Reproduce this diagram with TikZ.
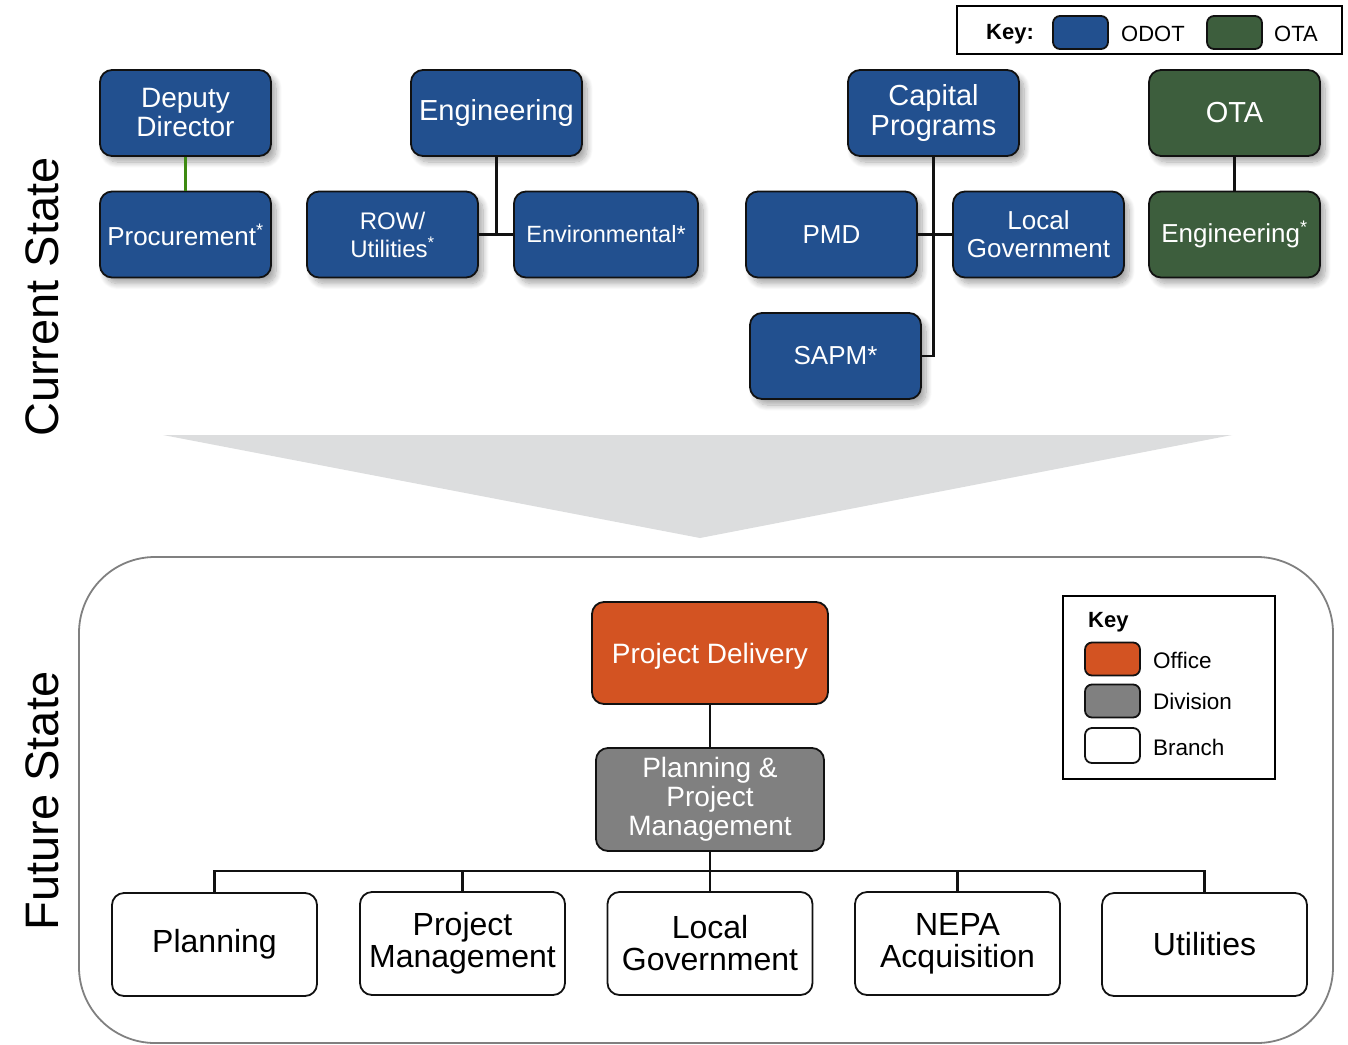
\documentclass[tikz,border=0pt]{standalone}
\usepackage{fontspec}
\setmainfont{Liberation Sans}
\usetikzlibrary{shadows.blur}
\definecolor{odot}{HTML}{22508F}
\definecolor{ota}{HTML}{3D5E3D}
\definecolor{office}{HTML}{D35322}
\definecolor{division}{HTML}{808080}
\definecolor{arrowgray}{HTML}{DCDDDE}
\definecolor{linkgreen}{HTML}{3E8A12}
\definecolor{inkline}{HTML}{111111}
\newcommand\myfs[2]{\fontsize{#1pt}{#2pt}\selectfont}
\begin{document}
\begin{tikzpicture}[x=1pt,y=-1pt,
  box/.style={draw=inkline, line width=1.8pt, rounded corners=12pt, inner sep=0pt, align=center,
    minimum width=171pt, minimum height=86pt},
  shad/.style={blur shadow={shadow xshift=5pt, shadow yshift=-6pt, shadow blur steps=10, shadow opacity=35, shadow blur radius=6pt}},
  odotbox/.style={box, shad, fill=odot, text=white},
  otabox/.style={box, shad, fill=ota, text=white},
  branch/.style={box, fill=white, text=black, minimum width=205pt, minimum height=103pt, font=\myfs{32}{32}},
  swatch/.style={draw=inkline, line width=1.8pt, rounded corners=7pt, minimum width=55pt, minimum height=33pt, inner sep=0pt},
  linkline/.style={draw=inkline, line width=2.2pt},
  keytext/.style={anchor=west, inner sep=0pt, font=\myfs{22.5}{24}}
]
\useasboundingbox (0,0) rectangle (1348,1044);

% ---------- top key ----------
\draw[line width=2pt] (957,6) rectangle (1342,54);
\node[anchor=west, inner sep=0pt, font=\myfs{22}{24}\bfseries] (keylbl) at (986,34) {Key:};
\node[swatch, fill=odot] (kodot) at (1080.5,32.5) {};
\node[keytext, font=\myfs{22}{24}] (todot) at (1121,34) {ODOT};
\node[swatch, fill=ota] (kota) at (1234.5,32.5) {};
\node[keytext, font=\myfs{22}{24}] (tota) at (1274,34) {OTA};

% ---------- section labels ----------
\node[rotate=90, inner sep=0pt, font=\myfs{47}{50}] (cur) at (42,297) {Current State};
\node[rotate=90, inner sep=0pt, font=\myfs{47}{50}] (fut) at (42,801) {Future State};

% ---------- current state ----------
\node[odotbox, font=\myfs{28}{29}] (dd) at (185.5,113) {Deputy\\Director};
\node[odotbox, font=\myfs{26}{28}] (proc) at (185.5,234.5) {Procurement\textsuperscript{*}};
\node[odotbox, font=\myfs{29}{30}] (eng) at (496.5,113) {Engineering};
\node[odotbox, font=\myfs{24}{28}] (row) at (392.5,234.5) {ROW/\\Utilities\textsuperscript{*}};
\node[odotbox, font=\myfs{23.5}{28}, minimum width=184pt] (env) at (606,234.5) {Environmental*};
\node[odotbox, font=\myfs{29}{30}] (cap) at (933.5,113) {Capital\\Programs};
\node[odotbox, font=\myfs{26}{28}] (pmd) at (831.5,234.5) {PMD};
\node[odotbox, font=\myfs{26}{28}] (lg) at (1038.5,234.5) {Local\\Government};
\node[odotbox, font=\myfs{26}{28}] (sapm) at (835.5,356) {SAPM*};
\node[otabox, font=\myfs{29}{30}] (ota) at (1234.5,113) {OTA};
\node[otabox, font=\myfs{26}{28}] (oeng) at (1234.5,234.5) {Engineering\textsuperscript{*}};

\draw[line width=2.6pt, draw=linkgreen] (dd.south) -- (proc.north);
\coordinate (ej) at (eng.south |- row.east);
\draw[linkline] (eng.south) -- (ej);
\draw[linkline] (row.east) -- (env.west);
\draw[linkline] (cap.south) |- (sapm.east);
\draw[linkline] (pmd.east) -- (lg.west);
\draw[linkline] (ota.south) -- (oeng.north);

% ---------- transition arrow ----------
\fill[arrowgray] (163,435) -- (1232,435) -- (700,538) -- cycle;

% ---------- future state ----------
\draw[line width=1.8pt, draw=division, rounded corners=76pt] (79,557) rectangle (1333,1043);

\node[box, fill=office, text=white, minimum width=236pt, minimum height=102pt, font=\myfs{28}{29}, text depth=0pt] (pd) at (710,653) {Project Delivery};
\node[box, fill=division, text=white, minimum width=228pt, minimum height=103pt, font=\myfs{28}{29}] (ppm) at (710,799.5) {Planning \&\\Project\\Management};

\node[branch] (plan) at (214.5,944.5) {Planning};
\node[branch] (pm) at (462.5,943.5) {Project\\Management};
\node[branch] (lgf) at (710,943.5) {Local\\Government};
\node[branch] (nepa) at (957.5,943.5) {NEPA\\Acquisition};
\node[branch] (util) at (1204.5,944.5) {Utilities};

\coordinate (bus) at (710,871);
\draw[linkline] (pd.south) -- (ppm.north);
\draw[linkline] (ppm.south) -- (lgf.north);
\draw[linkline] (plan.north) |- (bus) -| (util.north);
\draw[linkline] (pm.north) -- (pm.north |- bus);
\draw[linkline] (nepa.north) -- (nepa.north |- bus);

% ---------- future key ----------
\draw[line width=1.8pt] (1063,596) rectangle (1275,779);
\node[anchor=west, inner sep=0pt, font=\myfs{22}{24}\bfseries] (fkey) at (1088,622) {Key};
\node[swatch, fill=office] (koff) at (1112.5,659) {};
\node[keytext] (toff) at (1153,660) {Office};
\node[swatch, fill=division] (kdiv) at (1112.5,701) {};
\node[keytext] (tdiv) at (1153,701) {Division};
\node[swatch, fill=white, minimum height=35pt] (kbr) at (1112.5,745.5) {};
\node[keytext] (tbr) at (1153,747) {Branch};
\end{tikzpicture}
\end{document}
